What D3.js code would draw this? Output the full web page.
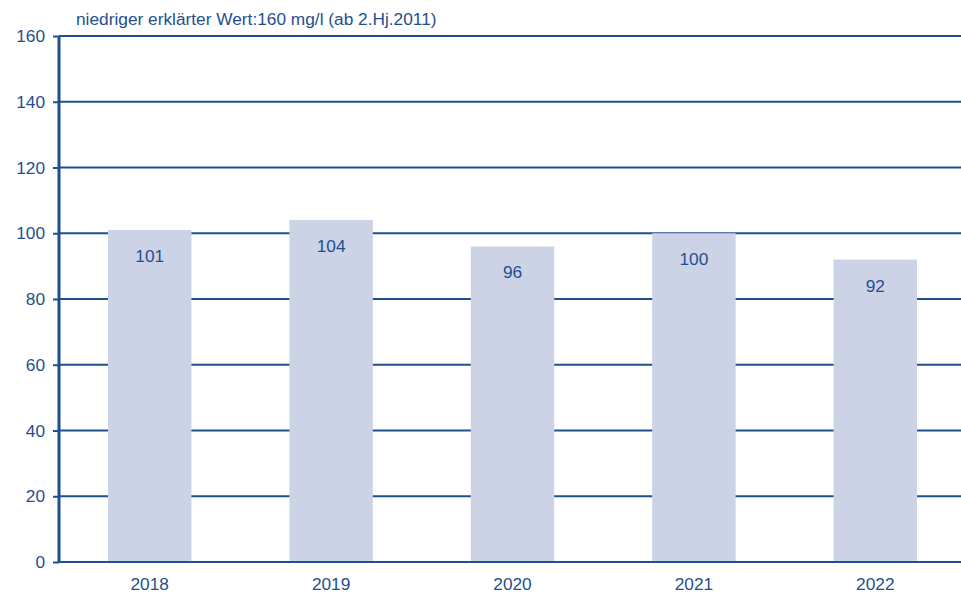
<!DOCTYPE html>
<html>
<head>
<meta charset="utf-8">
<script src="https://cdn.jsdelivr.net/npm/d3@7"></script>
<style>
  body { margin: 0; background: #fff; }
  svg { display: block; font-family: "Liberation Sans", Arial, sans-serif; }
</style>
</head>
<body>
<svg id="chart" width="961" height="598"></svg>
<script>
// data
var years = ["2018", "2019", "2020", "2021", "2022"];
var values = [101, 104, 96, 100, 92];
var yTicks = [0, 20, 40, 60, 80, 100, 120, 140, 160];
var note = "niedriger erklärter Wert:160 mg/l (ab 2.Hj.2011)";

var blue = "#1f4f8f";
var barColor = "#cdd3e6";
var fontSize = 17.3;

var svg = d3.select("#chart");
var m = { left: 59, right: 966, top: 36, bottom: 562 };

var x = d3.scaleBand()
    .domain(years)
    .range([m.left, m.right])
    .paddingInner(0.54)
    .paddingOuter(0.27);

var y = d3.scaleLinear()
    .domain([0, 160])
    .range([m.bottom, m.top]);

// gridlines
svg.append("g")
    .selectAll("line")
    .data(yTicks.filter(function (d) { return d > 0; }))
    .enter().append("line")
    .attr("x1", m.left)
    .attr("x2", 961)
    .attr("y1", function (d) { return y(d); })
    .attr("y2", function (d) { return y(d); })
    .attr("stroke", blue)
    .attr("stroke-width", 2);

// bars
svg.append("g")
    .selectAll("rect")
    .data(values)
    .enter().append("rect")
    .attr("x", function (d, i) { return x(years[i]); })
    .attr("width", x.bandwidth())
    .attr("y", function (d) { return y(d); })
    .attr("height", function (d) { return y(0) - y(d); })
    .attr("fill", barColor);

// value labels
svg.append("g")
    .selectAll("text")
    .data(values)
    .enter().append("text")
    .attr("x", function (d, i) { return x(years[i]) + x.bandwidth() / 2; })
    .attr("y", function (d) { return y(d) + 32; })
    .attr("text-anchor", "middle")
    .attr("font-size", fontSize)
    .attr("fill", blue)
    .text(function (d) { return d; });

// y axis
var yAxis = svg.append("g")
    .attr("transform", "translate(" + m.left + ",0)")
    .call(d3.axisLeft(y).tickValues(yTicks).tickSize(6).tickPadding(8));
yAxis.select(".domain").attr("stroke", blue).attr("stroke-width", 3)
    .attr("d", "M0," + m.bottom + "V" + m.top);
yAxis.selectAll(".tick line").attr("stroke", blue).attr("stroke-width", 2);
yAxis.selectAll(".tick text")
    .attr("fill", blue)
    .attr("font-size", fontSize)
    .attr("font-family", "Liberation Sans, Arial, sans-serif");

// x axis
var xAxis = svg.append("g")
    .attr("transform", "translate(0," + m.bottom + ")")
    .call(d3.axisBottom(x).tickSize(0).tickPadding(16));
xAxis.select(".domain").attr("stroke", blue).attr("stroke-width", 2)
    .attr("d", "M" + m.left + ",0H961");
xAxis.selectAll(".tick text")
    .attr("fill", blue)
    .attr("font-size", fontSize)
    .attr("font-family", "Liberation Sans, Arial, sans-serif");

// note
svg.append("text")
    .attr("x", 76)
    .attr("y", 25)
    .attr("font-size", fontSize)
    .attr("fill", blue)
    .text(note);
</script>
</body>
</html>
